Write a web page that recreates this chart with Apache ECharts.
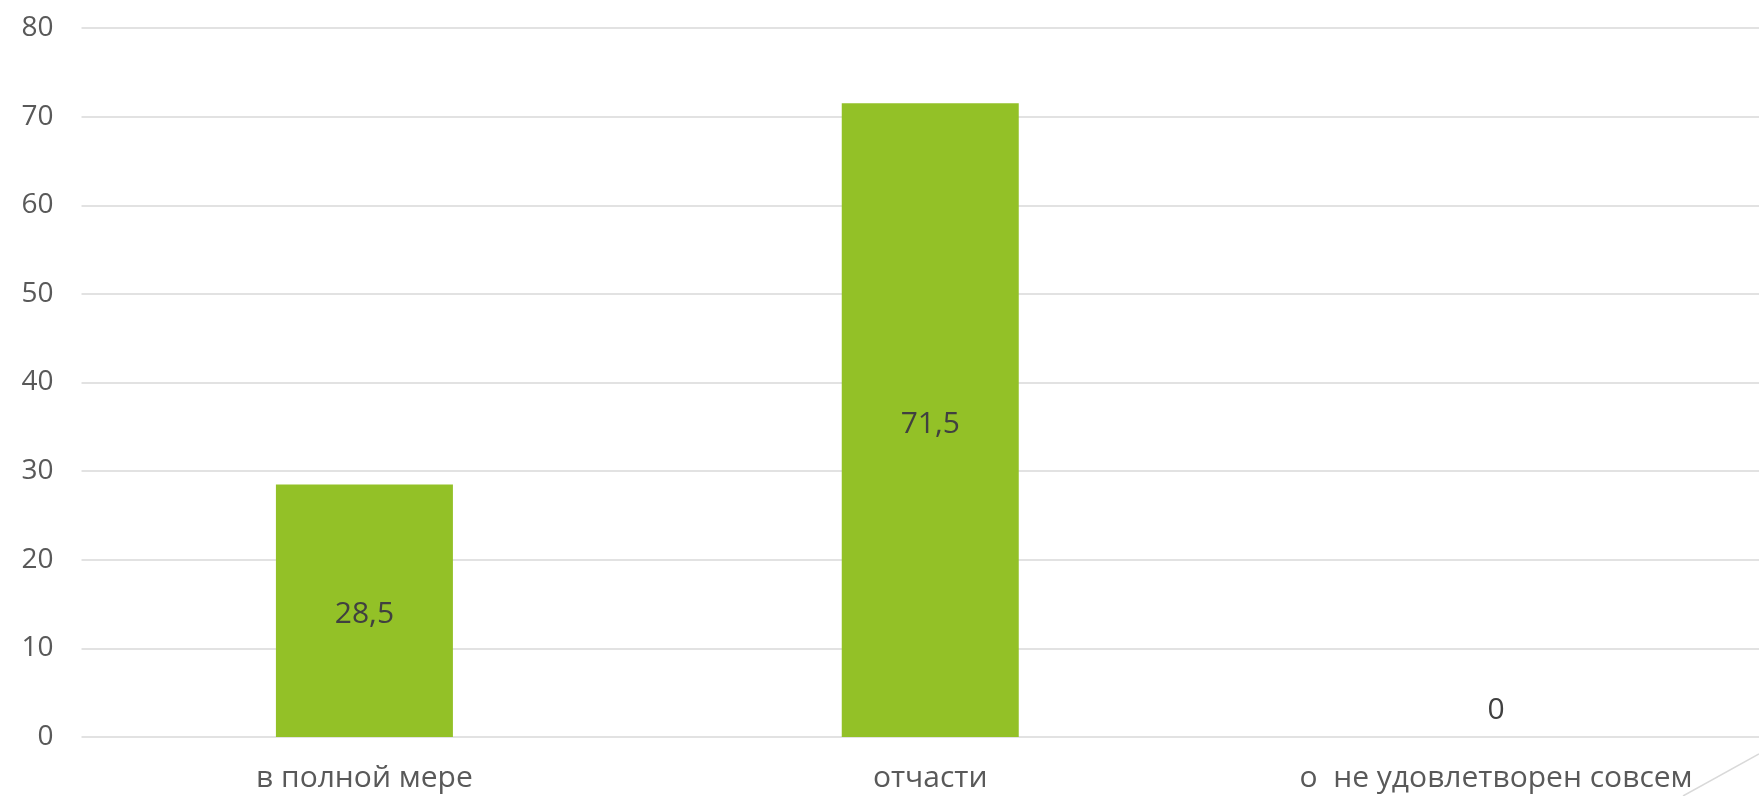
<!DOCTYPE html>
<html>
<head>
<meta charset="utf-8">
<script src="https://cdn.jsdelivr.net/npm/echarts@6/dist/echarts.min.js"></script>
<style>
html,body{margin:0;padding:0;background:#fff;}
#chart{width:1759px;height:796px;}
</style>
</head>
<body>
<div id="chart"></div>
<script>
const categories = ['в полной мере', 'отчасти', 'о  не удовлетворен совсем'];
const values = [28.5, 71.5, 0];
const labelTexts = ['28,5', '71,5', '0'];
const yTicks = { min: 0, max: 80, interval: 10 };

const chart = echarts.init(document.getElementById('chart'));
const FONT = '"Open Sans", sans-serif';

const seriesData = values.map((v, i) => ({
  value: v,
  label: v === 0
    ? { position: 'top', distance: 12 }
    : { position: 'inside', offset: [0, 4] }
}));

chart.setOption({
  animation: false,
  grid: { left: 81.5, right: -20, top: 28, bottom: 59, containLabel: false, outerBoundsMode: 'none' },
  xAxis: {
    type: 'category',
    data: categories,
    axisLine: { show: false },
    axisTick: { show: false },
    axisLabel: { color: '#595959', fontSize: 30, fontFamily: FONT, margin: 26 }
  },
  yAxis: {
    type: 'value',
    min: yTicks.min, max: yTicks.max, interval: yTicks.interval,
    axisLine: { show: false },
    axisTick: { show: false },
    axisLabel: { color: '#595959', fontSize: 28, fontFamily: FONT, margin: 28 },
    splitLine: { lineStyle: { color: '#d9d9d9', width: 1.5 } }
  },
  series: [{
    type: 'bar',
    data: seriesData,
    barWidth: 177,
    itemStyle: { color: '#93c127' },
    label: {
      show: true,
      color: '#404040',
      fontSize: 30,
      fontFamily: FONT,
      formatter: p => labelTexts[p.dataIndex]
    }
  }],
  graphic: [{
    type: 'line',
    shape: { x1: 1683, y1: 796, x2: 1759, y2: 754 },
    style: { stroke: '#d9d9d9', lineWidth: 1.5 },
    silent: true
  }]
});
</script>
</body>
</html>
